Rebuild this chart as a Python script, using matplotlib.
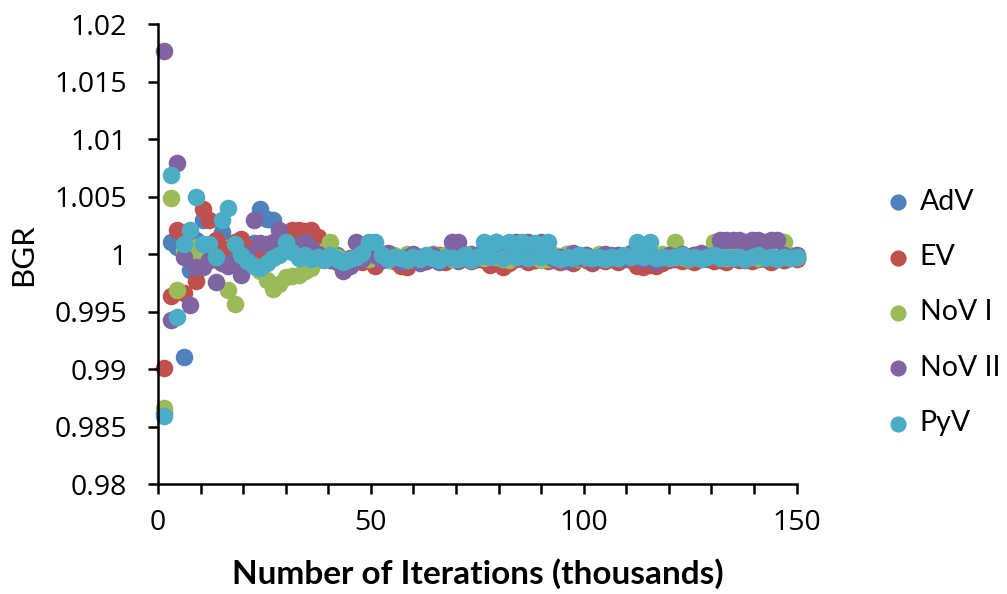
import numpy as np
import matplotlib
matplotlib.use('Agg')
from matplotlib import pyplot as plt
from matplotlib.ticker import MultipleLocator, FuncFormatter

# iterations in thousands, one sample every 1500 iterations
iterations = np.arange(1, 101) * 1.5

adv = [0.9862, 1.0011, 1.0006, 0.9911, 0.9986, 1.0012, 1.0030, 1.0008, 1.0005, 1.0019,
       1.0000, 0.9995, 1.0008, 0.9996, 1.0010, 1.0039, 1.0031, 1.0030, 1.0012, 1.0010,
       1.0008, 1.0002, 0.9999, 1.0004, 0.9997, 1.0001, 0.9996, 0.9999, 0.9994, 0.9993,
       0.9996, 0.9999, 1.0002, 0.9997, 0.9995, 1.0000, 0.9998, 0.9996, 0.9999, 0.9997,
       0.9995, 0.9998, 1.0000, 0.9996, 0.9999, 0.9997, 0.9994, 0.9998, 1.0000, 0.9996,
       0.9998, 0.9996, 0.9999, 0.9995, 0.9997, 1.0000, 0.9996, 0.9998, 0.9995, 0.9999,
       0.9997, 0.9995, 0.9998, 1.0000, 0.9996, 0.9999, 0.9997, 0.9994, 0.9998, 0.9996,
       0.9999, 0.9996, 0.9998, 0.9995, 0.9997, 0.9999, 0.9996, 0.9998, 0.9994, 0.9997,
       0.9996, 0.9998, 0.9995, 0.9999, 0.9997, 0.9996, 0.9998, 0.9995, 0.9999, 0.9997,
       0.9998, 0.9995, 0.9997, 0.9999, 0.9996, 0.9998, 0.9997, 0.9995, 0.9998, 0.9997]

ev = [0.9901, 0.9964, 1.0021, 0.9966, 1.0000, 0.9977, 1.0039, 1.0030, 1.0012, 1.0005,
      1.0002, 1.0011, 1.0013, 1.0005, 0.9995, 1.0000, 1.0008, 1.0003, 1.0012, 1.0018,
      1.0021, 1.0021, 1.0020, 1.0021, 1.0015, 1.0003, 0.9998, 0.9996, 0.9993, 0.9997,
      0.9995, 0.9993, 1.0001, 0.9990, 0.9996, 0.9998, 0.9994, 0.9990, 0.9989, 0.9996,
      0.9998, 0.9994, 0.9996, 0.9999, 0.9993, 0.9997, 0.9995, 0.9998, 0.9994, 0.9996,
      0.9995, 0.9991, 0.9997, 0.9989, 0.9992, 0.9996, 0.9998, 0.9993, 0.9995, 0.9997,
      0.9994, 0.9997, 0.9993, 0.9996, 0.9992, 0.9998, 0.9995, 0.9992, 0.9997, 0.9994,
      0.9996, 0.9993, 0.9997, 0.9995, 0.9990, 0.9989, 0.9991, 0.9990, 0.9992, 0.9995,
      0.9996, 0.9994, 0.9997, 0.9993, 0.9996, 0.9998, 0.9994, 0.9996, 0.9993, 0.9997,
      0.9995, 0.9997, 0.9994, 0.9996, 0.9998, 0.9993, 0.9996, 0.9995, 0.9997, 0.9996]

nov1 = [0.9866, 1.0049, 0.9969, 1.0003, 1.0001, 1.0006, 0.9995, 1.0002, 0.9995, 0.9992,
        0.9969, 0.9957, 0.9992, 0.9998, 0.9990, 0.9985, 0.9978, 0.9970, 0.9974, 0.9980,
        0.9981, 0.9982, 0.9985, 0.9988, 0.9995, 1.0003, 1.0011, 0.9998, 0.9995, 0.9993,
        0.9997, 0.9999, 0.9996, 1.0000, 0.9998, 0.9995, 0.9999, 0.9997, 1.0000, 0.9996,
        0.9998, 0.9995, 1.0000, 0.9997, 0.9999, 0.9996, 0.9998, 1.0000, 0.9997, 0.9999,
        0.9997, 1.0000, 0.9998, 0.9996, 0.9995, 0.9999, 0.9997, 1.0001, 0.9998, 0.9995,
        0.9996, 0.9999, 0.9997, 1.0000, 0.9998, 0.9996, 0.9999, 0.9997, 1.0000, 0.9998,
        0.9997, 0.9999, 0.9996, 1.0000, 0.9998, 0.9997, 0.9999, 0.9996, 1.0000, 0.9998,
        1.0011, 0.9998, 0.9996, 0.9999, 0.9997, 1.0000, 1.0011, 0.9998, 0.9997, 0.9999,
        0.9998, 0.9996, 0.9999, 0.9997, 1.0000, 0.9998, 0.9997, 1.0011, 0.9999, 0.9998]

nov2 = [1.0177, 0.9943, 1.0079, 0.9998, 0.9956, 0.9989, 0.9989, 0.9995, 0.9976, 0.9992,
        0.9990, 0.9995, 0.9982, 1.0000, 1.0030, 1.0010, 1.0009, 1.0011, 1.0021, 1.0005,
        1.0003, 1.0008, 1.0011, 1.0005, 1.0000, 0.9997, 0.9995, 0.9993, 0.9985, 0.9990,
        1.0011, 0.9996, 1.0002, 0.9999, 0.9995, 1.0001, 0.9997, 0.9993, 0.9998, 1.0000,
        0.9992, 0.9994, 0.9999, 0.9993, 0.9997, 1.0011, 1.0011, 0.9998, 0.9996, 0.9999,
        0.9999, 1.0002, 1.0011, 0.9998, 1.0003, 1.0011, 0.9997, 1.0011, 0.9999, 1.0011,
        1.0000, 0.9996, 0.9998, 0.9994, 1.0001, 0.9997, 0.9999, 0.9995, 0.9998, 1.0000,
        0.9997, 0.9999, 0.9996, 1.0001, 0.9998, 0.9996, 0.9999, 0.9993, 0.9997, 0.9999,
        0.9998, 1.0000, 0.9997, 0.9999, 1.0001, 0.9998, 0.9999, 1.0012, 1.0012, 1.0012,
        1.0012, 1.0011, 1.0012, 1.0012, 1.0011, 1.0012, 1.0012, 0.9999, 0.9998, 0.9999]

pyv = [0.9859, 1.0069, 0.9945, 1.0009, 1.0021, 1.0050, 1.0009, 1.0009, 0.9998, 1.0030,
       1.0040, 1.0009, 0.9999, 0.9994, 0.9990, 0.9988, 0.9992, 0.9997, 0.9999, 1.0011,
       1.0002, 0.9997, 0.9999, 0.9996, 0.9998, 0.9995, 0.9999, 0.9996, 0.9993, 0.9996,
       0.9998, 1.0001, 1.0011, 1.0011, 0.9999, 0.9996, 0.9998, 0.9997, 0.9995, 0.9998,
       0.9996, 0.9999, 0.9997, 0.9995, 0.9998, 0.9997, 0.9996, 0.9999, 0.9995, 0.9998,
       1.0011, 0.9998, 1.0011, 0.9997, 1.0011, 0.9998, 1.0011, 0.9997, 1.0010, 0.9998,
       1.0011, 0.9998, 0.9996, 0.9998, 0.9997, 0.9999, 0.9998, 0.9997, 0.9998, 0.9996,
       0.9998, 0.9997, 0.9999, 0.9998, 1.0011, 0.9998, 1.0011, 0.9997, 0.9998, 0.9997,
       0.9998, 0.9999, 0.9997, 0.9998, 0.9996, 0.9998, 0.9999, 0.9997, 0.9998, 0.9997,
       0.9998, 0.9996, 0.9998, 0.9999, 0.9997, 0.9998, 0.9996, 0.9998, 0.9997, 0.9998]

series_names = ['AdV', 'EV', 'NoV I', 'NoV II', 'PyV']
series_values = [adv, ev, nov1, nov2, pyv]
colors = ['#4F81BD', '#C0504D', '#9BBB59', '#8064A2', '#4BACC6']

plt.rcParams['font.family'] = ['Lato', 'DejaVu Sans']

fig = plt.figure(figsize=(10.07, 5.94), dpi=100)
ax = fig.add_axes([0.157, 0.185, 0.634, 0.774])

for name, vals, c in zip(series_names, series_values, colors):
    ax.scatter(iterations, vals, s=160, color=c, linewidths=0, label=name, clip_on=False)

ax.set_xlim(0, 150)
ax.set_ylim(0.98, 1.02)
ax.xaxis.set_major_locator(MultipleLocator(50))
ax.xaxis.set_minor_locator(MultipleLocator(10))
ax.yaxis.set_major_locator(MultipleLocator(0.005))
ax.yaxis.set_major_formatter(FuncFormatter(lambda v, p: '%g' % round(v, 3)))

for side in ['top', 'right']:
    ax.spines[side].set_visible(False)
for side in ['left', 'bottom']:
    ax.spines[side].set_linewidth(1.8)

ax.tick_params(axis='both', which='both', direction='out', width=1.8,
               labelsize=20.5, labelfontfamily='Open Sans')
ax.tick_params(axis='y', which='major', length=7, pad=15.5)
ax.tick_params(axis='x', which='major', length=7, pad=11)
ax.tick_params(axis='x', which='minor', length=7)

ax.set_xlabel('Number of Iterations (thousands)', fontsize=24, fontweight='bold', labelpad=15)
ax.set_ylabel('BGR', fontsize=22.5, labelpad=12)

fig.legend(loc='center left', bbox_to_anchor=(887 / 1007, 1 - 312.5 / 594),
           frameon=False, fontsize=20.5, markerscale=0.92, handlelength=0.8,
           handletextpad=0.35, labelspacing=1.03, borderpad=0, borderaxespad=0)

fig.savefig('out.png', dpi=100)
